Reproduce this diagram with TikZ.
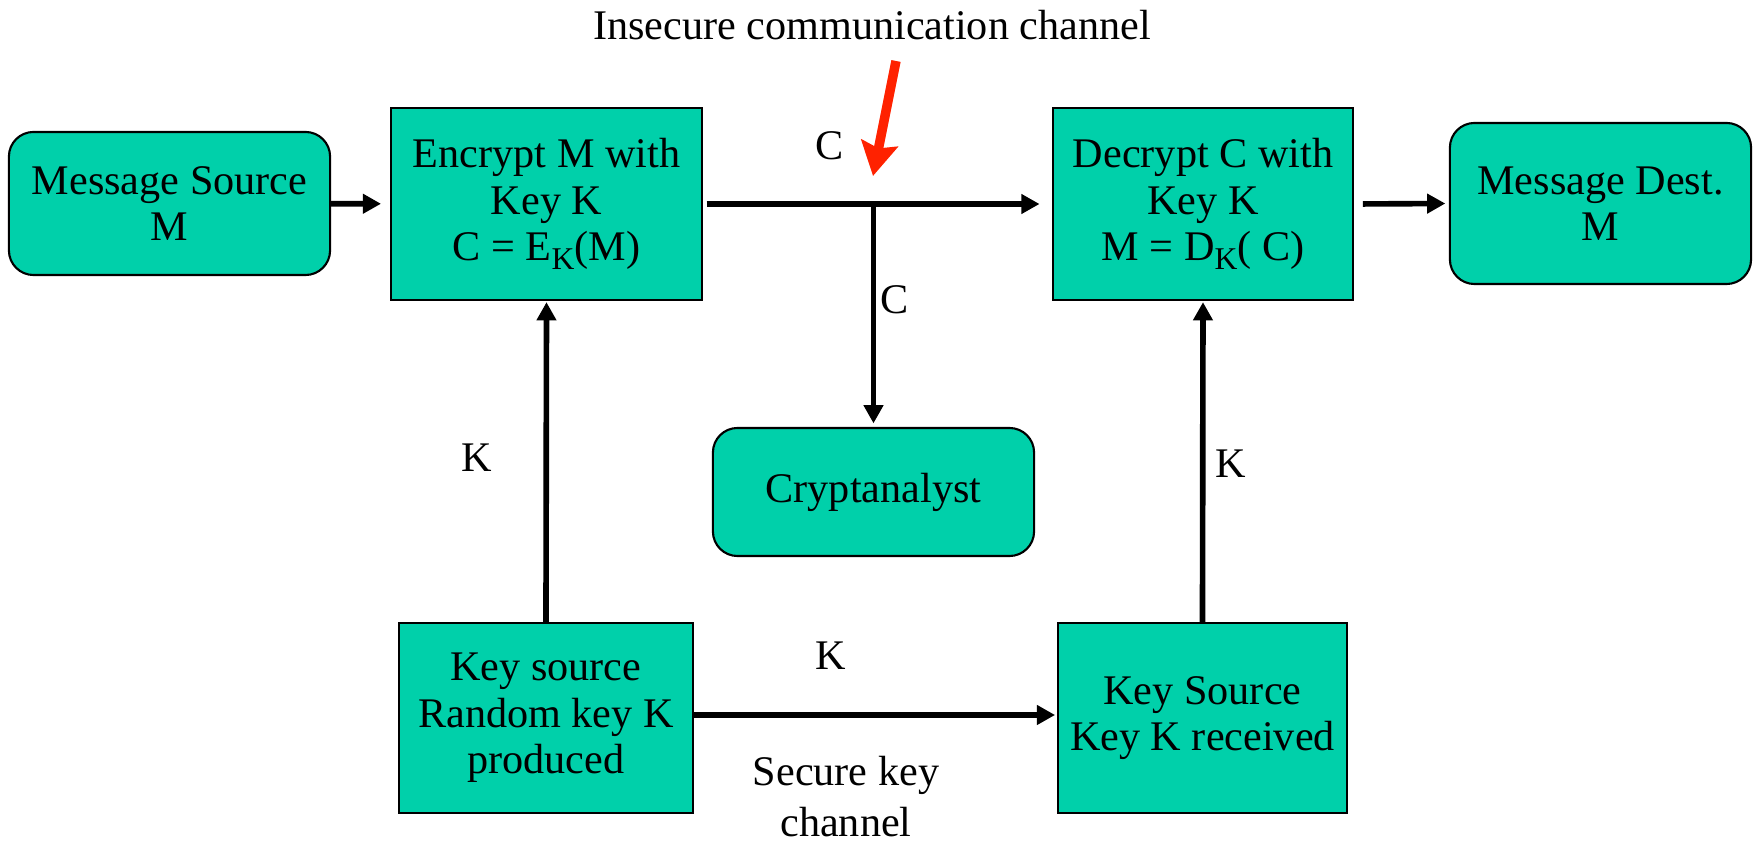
\documentclass[tikz,border=0pt]{standalone}
\usepackage{fontspec}
\setmainfont{Liberation Serif}
\usetikzlibrary{arrows.meta}
\definecolor{boxfill}{RGB}{0,208,170}
\definecolor{redarrow}{RGB}{255,34,0}
\newcommand{\mysub}[1]{\raisebox{-0.45ex}{\fontsize{9}{9}\selectfont #1}}
\tikzset{
  base/.style={draw=black, line width=0.6pt, fill=boxfill, align=center, inner sep=0pt,
    font=\fontsize{12}{13.2}\selectfont},
  rbox/.style={base, rounded corners=7pt},
  sbox/.style={base},
  conn/.style={line width=1.6pt, -{Triangle[length=5.2pt,width=5.4pt]}},
  lbl/.style={font=\fontsize{12}{13.2}\selectfont, inner sep=0pt, align=center},
}
\begin{document}
\begin{tikzpicture}[x=0.01cm, y=-0.01cm]
\useasboundingbox (0,0) rectangle (1753,843);
% boxes
\node[rbox, minimum width=3.21cm, minimum height=1.43cm] (ms) at (169.5,203.5) {Message Source\\M};
\node[sbox, minimum width=3.11cm, minimum height=1.92cm] (enc) at (546.5,204) {Encrypt M with\\Key K\\C = E\mysub{K}(M)};
\node[sbox, minimum width=3.00cm, minimum height=1.92cm] (dec) at (1203,204) {Decrypt C with\\Key K\\M = D\mysub{K}( C)};
\node[rbox, minimum width=3.01cm, minimum height=1.61cm] (dest) at (1600.5,203.5) {Message Dest.\\M};
\node[rbox, minimum width=3.21cm, minimum height=1.28cm] (crypt) at (873.5,492) {Cryptanalyst};
\node[sbox, minimum width=2.94cm, minimum height=1.90cm] (ks) at (546,718) {Key source\\Random key K\\produced};
\node[sbox, minimum width=2.89cm, minimum height=1.90cm] (kr) at (1202.5,718) {Key Source\\Key K received};
% connectors
\draw[conn, shorten >=2.5pt] (ms) -- (enc);
\draw[conn, shorten <=1pt, shorten >=3.5pt] (enc.east) -- (dec.west);
\draw[conn, shorten <=2.5pt, shorten >=1pt] (dec.east) -- (dest.west);
\coordinate (br) at (enc.east -| crypt.north);
\draw[conn, shorten >=1pt] (br) -- (crypt.north);
\draw[conn, shorten >=0.3pt] (ks.north) -- (enc.south);
\draw[conn, shorten >=0.3pt] (kr.north) -- (dec.south);
\coordinate (kse) at (ks.east |- 0,715);
\draw[conn, shorten >=0.5pt] (kse) -- (kr.west |- kse);
% labels
\node[lbl] (title) at (872,25) {Insecure communication channel};
\coordinate (rs) at (896,61);
\coordinate (re) at (873,176);
\draw[draw=redarrow, line width=2.7pt, -{Stealth[length=9.5pt,width=10.5pt,inset=1.5pt]}] (rs) -- (re);
\node[lbl] (c1) at (830,146) {C};
\node[lbl] (c2) at (895,300) {C};
\node[lbl] (k1) at (477,458) {K};
\node[lbl] (k2) at (1231,464) {K};
\node[lbl] (k3) at (831,656) {K};
\node[lbl, font=\fontsize{12}{14.5}\selectfont] (skc) at (846,797) {Secure key\\channel};
\end{tikzpicture}
\end{document}
